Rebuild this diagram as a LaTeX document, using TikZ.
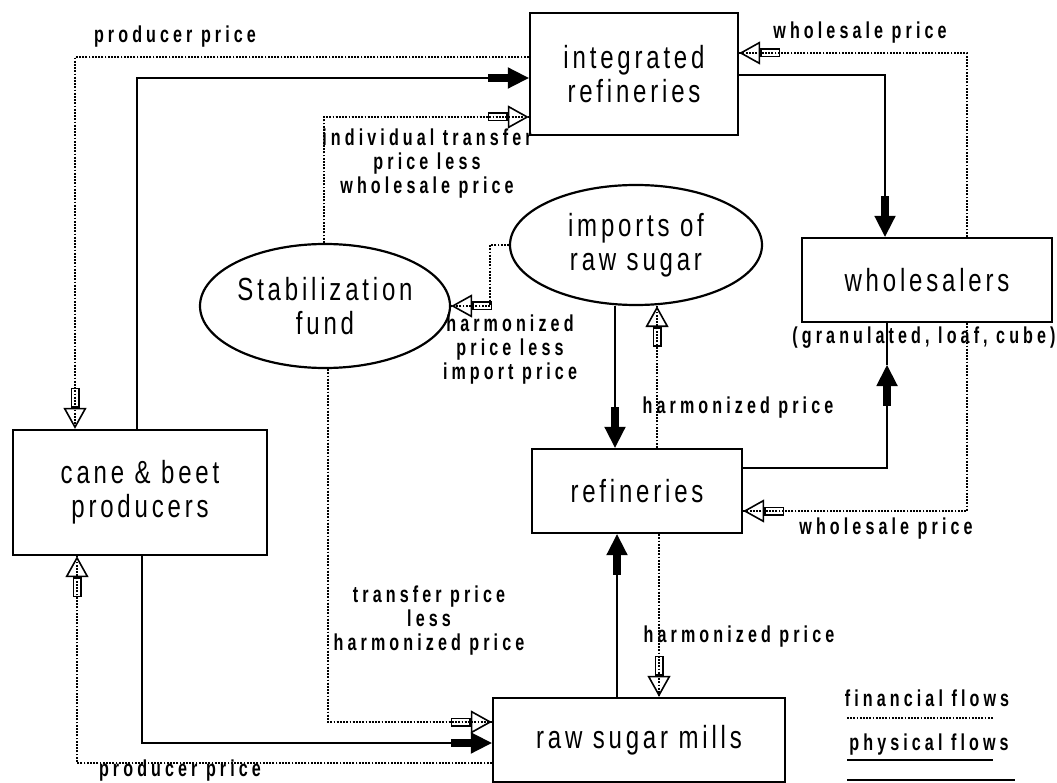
\documentclass[tikz,border=0pt]{standalone}
\usepackage{fontspec}
\usetikzlibrary{arrows.meta,shapes.geometric}
\newfontfamily\boxfont[FakeStretch=0.75,LetterSpace=11.9]{Liberation Sans}
\newfontfamily\tagfont[FakeStretch=0.7,LetterSpace=17.8]{Liberation Sans}

\tikzset{
  box/.style={draw, line width=2.4pt, rectangle, inner sep=0pt, align=center,
    font=\boxfont\fontsize{32}{34}\selectfont},
  oval/.style={draw, line width=2.2pt, ellipse, inner sep=0pt, align=center,
    font=\boxfont\fontsize{32}{34}\selectfont},
  tag/.style={inner sep=0pt, align=center,
    font=\tagfont\bfseries\fontsize{23}{24}\selectfont},
  physline/.style={line width=2pt},
  phys/.style={physline,
    -{Rectangle[length=20pt,width=8pt]Triangle[length=21pt,width=21pt]}},
  fin/.style={line width=1.8pt, dash pattern=on 1.8pt off 1.4pt},
  finarrow/.style={fin,
    -{Rectangle[open,length=20pt,width=9pt,line width=1.6pt]Triangle[open,length=21pt,width=23pt,line width=1.6pt]}},
}
% a money flow: hollow tip, with the dotted line running on into it
\newcommand\finlink[1]{\draw[finarrow] #1; \draw[fin] #1;}

\begin{document}
\begin{tikzpicture}[x=1pt,y=-1pt]
\useasboundingbox (0,0) rectangle (1057,783);

% actors
\node[box, minimum width=208pt, minimum height=122pt] (intref) at (634,74) {integrated\\refineries};
\node[box, minimum width=250pt, minimum height=84pt] (whole) at (927,280) {wholesalers};
\node[box, minimum width=254pt, minimum height=125pt] (cane) at (140,492.5) {cane \& beet\\producers};
\node[box, minimum width=210pt, minimum height=84pt] (ref) at (637,491) {refineries};
\node[box, minimum width=292pt, minimum height=84pt] (mills) at (639,740) {raw sugar mills};
\node[oval, minimum width=252pt, minimum height=120pt] (imports) at (636,245) {imports of\\raw sugar};
\node[oval, minimum width=250pt, minimum height=124pt] (stab) at (325,306) {Stabilization\\fund};

% physical flows
\draw[phys] (137,0 |- cane.north) |- (intref.west |- 0,78);
\draw[phys] (intref.east |- 0,75) -| (885,0 |- whole.north);
\coordinate (upmark) at (887,365);
\draw[phys] (ref.east |- 0,468) -| (upmark);
\draw[physline] (upmark) -- (887,0 |- whole.south);
\draw[phys] (615,0 |- imports.south) -- (615,0 |- ref.north);
\draw[phys] (617,0 |- mills.north) -- (617,0 |- ref.south);
\draw[phys] (142,0 |- cane.south) |- (mills.west |- 0,743);

% financial flows
\finlink{(mills.west |- 0,763) -| (77,0 |- cane.south)}
\finlink{(intref.west |- 0,57) -| (75,0 |- cane.north)}
\finlink{(324,0 |- stab.north) |- (intref.west |- 0,117)}
\finlink{(967,0 |- whole.north) |- (intref.east |- 0,53)}
\finlink{(967,0 |- whole.south) |- (ref.east |- 0,511)}
\finlink{(imports.west) -| (490,0 |- stab.east) -- (stab.east)}
\finlink{(657,0 |- ref.north) -- (657,0 |- imports.south)}
\finlink{(659,0 |- ref.south) -- (659,0 |- mills.north)}
\finlink{(328,0 |- stab.south) |- (mills.west |- 0,722)}

% flow labels
\node[tag] (lpp1) at (175,37) {producer price};
\node[tag] (lpp2) at (180,771) {producer price};
\node[tag] (lwp1) at (860,33) {wholesale price};
\node[tag] (lwp2) at (886,529) {wholesale price};
\node[tag] (litp) at (427,164) {individual transfer\\price less\\wholesale price};
\node[tag] (lhpi) at (510,350) {harmonized\\price less\\import price};
\node[tag] (lhp1) at (738,408) {harmonized price};
\node[tag] (lhp2) at (739,637) {harmonized price};
\node[tag] (ltph) at (429,621) {transfer price\\less\\harmonized price};
\node[tag] (lgran) at (924,338) {(granulated, loaf, cube)};

% key
\node[tag] (lfin) at (927,698) {financial flows};
\node[tag] (lphy) at (929,745) {physical flows};
\draw[fin] (847,718) -- (993,718);
\draw[physline, line width=2.4pt] (847,760) -- (993,760);
\draw[physline, line width=2.4pt] (847,780) -- (1015,780);
\end{tikzpicture}
\end{document}
